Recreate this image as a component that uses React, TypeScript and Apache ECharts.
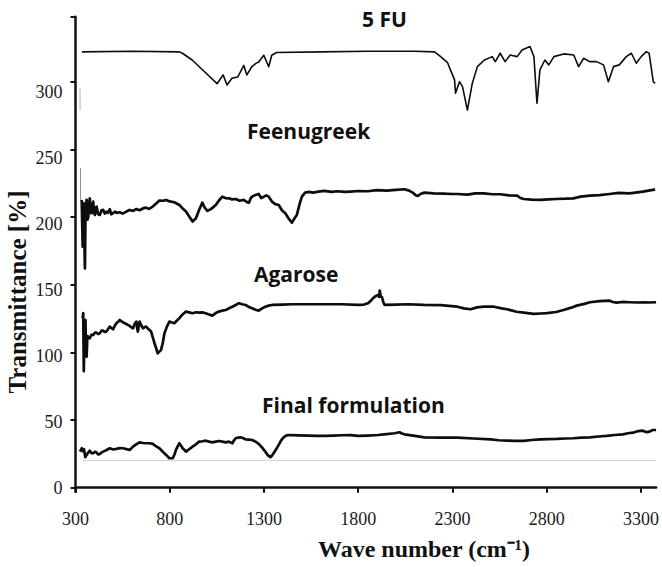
import React, { useEffect, useRef } from "react";
import * as echarts from "echarts";

const waveTicks = [300, 800, 1300, 1800, 2300, 2800, 3300];
const transTicks = [0, 50, 100, 150, 200, 250, 300];
const transTickMarks = [0, 50, 100, 150, 200, 250, 300, 348];

const fu5: number[][] = [
  [334, 322], [600, 322.5], [851, 322], [867, 321], [919, 316], [972, 309], [1051, 298.5], [1083, 305],
  [1104, 297.5], [1130, 302.5], [1161, 303.5], [1193, 312], [1209, 305], [1235, 311], [1257, 313.5],
  [1272, 314.5], [1299, 319.5], [1325, 311], [1341, 319.5], [1367, 321.5], [1600, 322], [1852, 322.5],
  [2100, 322.5], [2205, 322], [2237, 318.5], [2274, 314], [2289, 308.7], [2311, 301.3], [2316, 291.4],
  [2337, 300], [2353, 296.3], [2379, 279], [2405, 298.8], [2432, 311.1], [2469, 316], [2511, 318.5],
  [2527, 314.8], [2553, 321], [2579, 314.8], [2606, 319.7], [2643, 318.5], [2669, 323.4], [2711, 326],
  [2732, 318.5], [2748, 284], [2764, 308.7], [2790, 316], [2811, 312.4], [2838, 318.5], [2890, 320.5],
  [2943, 319.7], [2969, 311.1], [2996, 317.3], [3027, 314.8], [3064, 314.8], [3101, 312.4], [3127, 300],
  [3154, 311.1], [3185, 312.4], [3222, 318.5], [3249, 321], [3275, 313.6], [3301, 318.5], [3328, 322.2],
  [3343, 321], [3365, 300], [3375, 298.8],
];

const feenugreek: number[][] = [
  [333, 212.6], [338, 178], [341, 205], [345, 210], [348, 175.6], [350, 162], [353, 200], [359, 212.6],
  [364, 198], [368, 200.2], [372, 210], [376, 213.8], [380, 203], [385, 202.8], [390, 209], [394, 211.4],
  [398, 203], [403, 201.5], [408, 207], [412, 207.7], [420, 202], [429, 201.5], [438, 205], [447, 205.2],
  [455, 202.5], [464, 204], [472, 203], [482, 205.7], [490, 202], [499, 202.8], [510, 204], [520, 203],
  [535, 203.5], [550, 202.5], [570, 204], [587, 205.2], [605, 204.5], [623, 205.9], [640, 205],
  [660, 206.5], [675, 206.9], [690, 206], [710, 207.7], [728, 210], [745, 212.1], [765, 212], [781, 212.6],
  [800, 211.5], [824, 210.9], [851, 208.9], [870, 206], [886, 204], [905, 200], [921, 196.6], [939, 199],
  [955, 205], [973, 210.6], [985, 207], [1000, 204.5], [1020, 206], [1044, 208.9], [1060, 212],
  [1079, 215], [1095, 214], [1114, 213.8], [1130, 213], [1150, 213.3], [1170, 212], [1193, 212.6],
  [1210, 211], [1220, 210.6], [1230, 214], [1237, 215], [1250, 216], [1272, 217], [1285, 214], [1299, 215],
  [1312, 216], [1325, 215], [1342, 211.4], [1360, 209.5], [1378, 208.9], [1395, 205], [1413, 202.8],
  [1430, 199], [1448, 195.8], [1462, 199], [1474, 201.5], [1490, 210], [1501, 215], [1518, 218],
  [1540, 218.5], [1560, 218], [1589, 218.7], [1620, 219.3], [1659, 218.5], [1690, 219], [1729, 218.5],
  [1760, 218.8], [1799, 219.2], [1850, 219], [1900, 219.8], [1950, 219.5], [2000, 220], [2045, 220.5],
  [2070, 219.5], [2089, 218], [2105, 216], [2116, 215.5], [2130, 217], [2151, 218], [2200, 217.5],
  [2250, 217.2], [2300, 217], [2326, 217], [2380, 216.5], [2420, 217.5], [2467, 217.5], [2510, 216.8],
  [2554, 216.8], [2600, 216], [2643, 215.8], [2660, 214], [2678, 213.3], [2720, 212.8], [2765, 212.6],
  [2810, 213], [2850, 213.3], [2900, 213.5], [2941, 213.8], [2980, 215], [3029, 215.8], [3080, 216.2],
  [3134, 217], [3180, 217.8], [3240, 217.5], [3280, 218.2], [3310, 218.7], [3340, 219.5], [3363, 220],
  [3375, 220.5],
];

const agarose: number[][] = [
  [338, 125], [341, 128.9], [344, 86], [347, 109.1], [350, 120], [353, 123.9], [356, 100], [359, 96.8],
  [363, 112], [368, 111.6], [376, 110.4], [385, 113], [394, 112.8], [403, 114.5], [412, 114.5],
  [420, 113.5], [429, 114.1], [438, 116], [447, 116], [455, 115], [464, 115.3], [472, 117], [482, 119],
  [490, 118], [499, 117], [508, 119.5], [517, 121.5], [526, 122.5], [535, 123.9], [548, 122.5],
  [561, 121.5], [575, 120.5], [587, 119.5], [596, 118.5], [605, 117.8], [614, 121], [623, 122.7],
  [627, 118], [631, 115.3], [636, 120], [640, 122.7], [649, 120], [658, 117.8], [666, 118.5], [675, 119],
  [688, 117], [701, 115.3], [710, 111], [719, 106.7], [728, 103], [736, 99.3], [745, 100.5], [754, 101.8],
  [763, 107], [772, 114.1], [785, 119], [798, 122.7], [811, 122], [824, 121.5], [838, 123.5], [851, 125.2],
  [868, 128], [886, 130.1], [903, 129.5], [921, 128.9], [939, 129.6], [956, 129.3], [974, 129.5],
  [991, 128.9], [1008, 128], [1026, 127.1], [1044, 129], [1061, 130.1], [1079, 130.8], [1097, 131.3],
  [1114, 132.5], [1132, 133.7], [1150, 135], [1167, 136.3], [1185, 135.5], [1202, 135], [1220, 133.5],
  [1237, 132.6], [1255, 131.5], [1272, 130.8], [1290, 132.5], [1307, 133.7], [1325, 134.5], [1342, 135],
  [1400, 135.3], [1448, 135.5], [1530, 135.5], [1624, 135.5], [1710, 135.5], [1799, 135], [1830, 135.3],
  [1852, 136.3], [1866, 138], [1878, 139.9], [1892, 141.5], [1905, 142.4], [1910, 141], [1914, 145.6],
  [1920, 141], [1926, 140.7], [1933, 137], [1940, 135], [2000, 135.2], [2063, 135.5], [2150, 135],
  [2238, 134.8], [2280, 134.3], [2326, 133.7], [2360, 132.5], [2396, 131.8], [2430, 133.2], [2467, 133.7],
  [2520, 133.7], [2560, 132.5], [2590, 131.8], [2640, 130], [2678, 129.3], [2730, 128.4], [2770, 128.7],
  [2801, 128.9], [2850, 129.8], [2889, 131.3], [2930, 133], [2959, 134.5], [3000, 135.8], [3029, 137],
  [3080, 137.8], [3134, 138.2], [3150, 137.2], [3170, 136.7], [3200, 137.2], [3240, 137], [3280, 136.8],
  [3310, 137], [3345, 136.8], [3380, 137],
];

const finalFormulation: number[][] = [
  [324, 26.6], [333, 29.1], [338, 27], [345, 28.4], [352, 22.5], [359, 24.2], [368, 26], [376, 27.3],
  [385, 25.5], [394, 25.4], [403, 26.5], [412, 25.9], [420, 24.5], [429, 24.9], [438, 26], [447, 26.6],
  [465, 27.8], [482, 29.1], [500, 28.2], [517, 28.6], [535, 29.2], [552, 29.1], [570, 28.5], [587, 27.9],
  [596, 29], [605, 30.3], [622, 32], [640, 33.5], [658, 33], [675, 32.8], [692, 32.8], [710, 32.3],
  [728, 30.5], [745, 29.1], [763, 26.5], [781, 24.2], [798, 21.7], [816, 21.7], [825, 24.5], [833, 27.9],
  [842, 30.5], [851, 32.8], [860, 31], [868, 29.1], [877, 28], [886, 26.6], [903, 28.4], [921, 30.3],
  [939, 32], [956, 34], [974, 34.3], [991, 34.7], [1008, 34], [1026, 33.5], [1044, 34], [1061, 34.5],
  [1079, 34], [1097, 33.5], [1114, 34], [1132, 32.8], [1141, 35], [1150, 36.5], [1163, 37], [1176, 37.2],
  [1190, 36.5], [1202, 35.7], [1220, 35.5], [1237, 35.2], [1255, 34], [1272, 32.3], [1290, 29.5],
  [1307, 26.6], [1320, 24], [1334, 22.5], [1342, 23.5], [1351, 25.4], [1365, 28.5], [1378, 31.6],
  [1391, 35], [1404, 37.2], [1417, 38.4], [1430, 38.9], [1480, 38.6], [1536, 38.4], [1580, 38.2],
  [1624, 38.2], [1670, 38.5], [1712, 38.7], [1760, 38.8], [1799, 38.2], [1850, 38.5], [1905, 38.9],
  [1950, 39.5], [1993, 40.2], [2019, 40.9], [2032, 40], [2045, 39.4], [2100, 38.2], [2151, 37.2],
  [2240, 37], [2326, 36.9], [2410, 36.3], [2502, 35.7], [2545, 35], [2590, 34.7], [2630, 34.5],
  [2678, 34.5], [2720, 35.2], [2765, 35.7], [2810, 35.9], [2853, 36], [2900, 36.3], [2941, 36.5],
  [2985, 36.9], [3029, 37.2], [3075, 37.8], [3117, 38.2], [3160, 38.9], [3205, 39.4], [3230, 40.2],
  [3258, 40.6], [3285, 41.8], [3310, 42.1], [3330, 41], [3345, 41.4], [3362, 42.6], [3380, 42.6],
];

const grayBaseline: number[][] = [[338, 20], [3380, 20]];
const graySpikeFeenugreek: number[][] = [[327, 212], [327, 236]];
const graySpikeFu: number[][] = [[324, 279], [324, 295]];

const labelNames = ["5 FU", "Feenugreek", "Agarose", "Final formulation"];

export default function App() {
  const ref = useRef<HTMLDivElement>(null);
  useEffect(() => {
    const chart = echarts.init(ref.current!, null, { renderer: "svg" });
    const serif = "'Liberation Serif', 'Times New Roman', serif";
    const sans = "'Open Sans', 'Noto Sans', sans-serif";
    const plain = (v: number) => String(v);
    const line = (name: string, data: number[][], width: number, color = "#0d0d0d") => ({
      name,
      type: "line",
      data,
      showSymbol: false,
      symbol: "none",
      lineStyle: { color, width, join: "round" },
      silent: true,
      xAxisIndex: 0,
      yAxisIndex: 0,
    });
    const labelPos = [
      { x: 362, y: 19 },
      { x: 247, y: 131 },
      { x: 254, y: 274 },
      { x: 262, y: 405 },
    ];
    chart.setOption({
      animation: false,
      backgroundColor: "#ffffff",
      grid: { left: 75.5, right: 2, top: 16.7, bottom: 75.3, containLabel: false },
      xAxis: {
        type: "value",
        min: 300,
        max: 3380,
        axisLine: { show: true, lineStyle: { color: "#111", width: 2.5 } },
        axisTick: { show: true, customValues: waveTicks, length: 5, inside: false, lineStyle: { color: "#111", width: 2 } },
        axisLabel: { customValues: waveTicks, formatter: plain, margin: 18, fontFamily: serif, fontSize: 18, color: "#1a1a1a" },
        splitLine: { show: false },
      },
      yAxis: [
        {
          type: "value",
          min: -3,
          max: 348,
          position: "left",
          axisLine: { show: true, lineStyle: { color: "#111", width: 2.5 } },
          axisTick: { show: true, customValues: transTickMarks, length: 5, inside: false, lineStyle: { color: "#111", width: 2 } },
          axisLabel: { show: false },
          splitLine: { show: false },
        },
        {
          type: "value",
          min: -3.03,
          max: 356.8,
          position: "left",
          axisLine: { show: false },
          axisTick: { show: false },
          axisLabel: { customValues: transTicks, formatter: plain, margin: 13, fontFamily: serif, fontSize: 18, color: "#1a1a1a" },
          splitLine: { show: false },
        },
      ],
      series: [
        line("grayBaseline", grayBaseline, 1, "#d4d4d4"),
        line("graySpike1", graySpikeFeenugreek, 1, "#8a8a8a"),
        line("graySpike2", graySpikeFu, 1, "#b0b0b0"),
        line(labelNames[0], fu5, 1.6),
        line(labelNames[1], feenugreek, 2.7),
        line(labelNames[2], agarose, 2.7),
        line(labelNames[3], finalFormulation, 2.7),
      ],
      graphic: [
        ...labelNames.map((t, i) => ({
          type: "text",
          x: labelPos[i].x,
          y: labelPos[i].y,
          style: {
            text: t,
            fontFamily: sans,
            fontWeight: "bold",
            fontSize: 21,
            fill: "#111",
            align: "left",
            verticalAlign: "middle",
            textAlign: "left",
            textVerticalAlign: "middle",
          },
        })),
        {
          type: "text",
          x: 17,
          y: 292,
          rotation: Math.PI / 2,
          style: {
            text: "Transmittance [%]",
            fontFamily: serif,
            fontWeight: "bold",
            fontSize: 25,
            fill: "#111",
            align: "center",
            verticalAlign: "middle",
            textAlign: "center",
            textVerticalAlign: "middle",
          },
        },
        {
          type: "text",
          x: 424,
          y: 549,
          style: {
            text: "Wave number (cm⁻¹)",
            fontFamily: serif,
            fontWeight: "bold",
            fontSize: 24,
            fill: "#111",
            align: "center",
            verticalAlign: "middle",
            textAlign: "center",
            textVerticalAlign: "middle",
          },
        },
      ],
    });
    return () => chart.dispose();
  }, []);
  return <div ref={ref} style={{ position: "fixed", left: 0, top: 0, width: 662, height: 567 }} />;
}
